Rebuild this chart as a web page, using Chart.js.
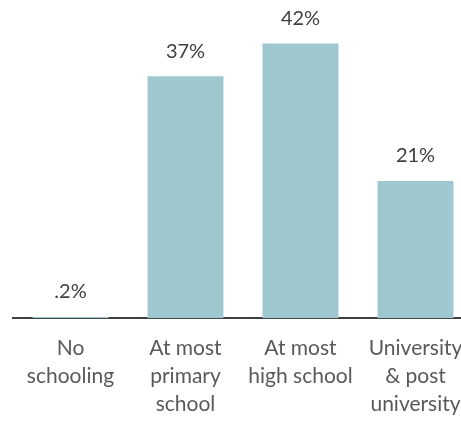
<!DOCTYPE html>
<html>
<head>
<meta charset="utf-8">
<script src="https://cdn.jsdelivr.net/npm/chart.js@4/dist/chart.umd.min.js"></script>
<style>
  html, body { margin: 0; padding: 0; background: #fff; overflow: hidden; }
  #wrap { width: 461px; height: 421px; overflow: hidden; }
</style>
</head>
<body>
<div id="wrap"><canvas id="eduChart" width="474" height="426"></canvas></div>
<script>
// education level shares
let levels = [["No", "schooling"], ["At most", "primary", "school"], ["At most", "high school"], ["University", "& post", "university"]];
let shares = [0.2, 37, 42, 21];
let shareLabels = [".2%", "37%", "42%", "21%"];

let ctx = document.getElementById("eduChart").getContext("2d");

// write the percentage above each bar
let valueLabels = {
    id: "valueLabels",
    afterDatasetsDraw(chart) {
        let c = chart.ctx;
        let bars = chart.getDatasetMeta(0).data;
        c.save();
        c.font = "20px Lato";
        c.fillStyle = "#404040";
        c.textAlign = "center";
        c.textBaseline = "middle";
        bars.forEach((bar, i) => {
            c.fillText(shareLabels[i], bar.x, bar.y - 25);
        });
        c.restore();
    }
};

let eduChart = new Chart(ctx, {
    type: "bar",
    data: {
        labels: levels,
        datasets: [{
            data: shares,
            backgroundColor: "#9fc7d0",
            categoryPercentage: 1,
            barPercentage: 0.66
        }]
    },
    options: {
        responsive: false,
        animation: false,
        layout: { padding: { left: 13, right: 1, top: 24, bottom: 0 } },
        plugins: { legend: { display: false }, tooltip: { enabled: false } },
        scales: {
            x: {
                grid: { display: false },
                border: { display: true, color: "#404040", width: 2 },
                ticks: {
                    color: "#595959",
                    font: { family: "Lato", size: 21, lineHeight: 1.33 },
                    padding: 8,
                    maxRotation: 0,
                    autoSkip: false
                }
            },
            y: {
                display: false,
                min: 0,
                max: 45
            }
        }
    },
    plugins: [valueLabels]
});
</script>
</body>
</html>
